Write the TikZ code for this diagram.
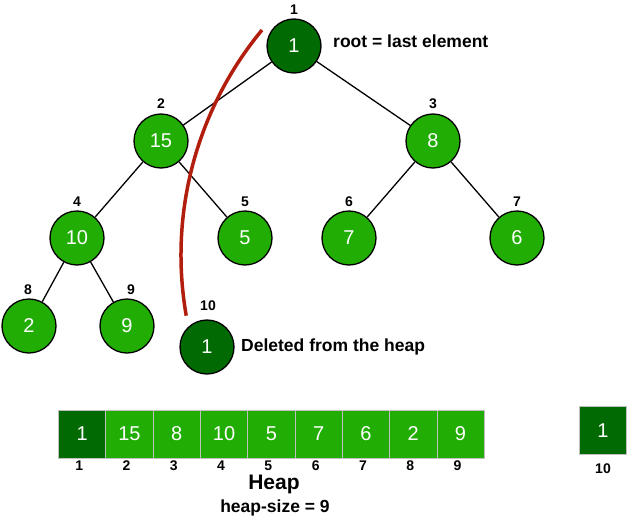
\documentclass[tikz,border=0pt]{standalone}
\usepackage{fontspec}
\setmainfont{Liberation Sans}
\definecolor{lg}{RGB}{33,173,3}
\definecolor{dg}{RGB}{2,106,2}
\definecolor{arcred}{RGB}{178,30,14}
\begin{document}
\begin{tikzpicture}[x=1pt,y=-1pt,
  hnode/.style={circle,draw=black,line width=1.3pt,fill=lg,minimum size=54pt,inner sep=0pt,text=white,font=\fontsize{20}{20}\selectfont},
  dnode/.style={hnode,fill=dg},
  idx/.style={font=\bfseries\fontsize{14}{14}\selectfont,inner sep=0pt},
  note/.style={font=\bfseries\fontsize{17.5}{20}\selectfont,inner sep=0pt,anchor=west},
  cell/.style={rectangle,draw=black!25,line width=0.8pt,fill=lg,minimum width=47.3pt,minimum height=48pt,inner sep=0pt,text=white,font=\fontsize{20}{20}\selectfont},
  edge/.style={draw=black,line width=1.3pt}]
\useasboundingbox (0,0) rectangle (634,519);
% tree nodes
\node[dnode] (r) at (294,46) {1};
\node[hnode] (n2) at (161,141) {15};
\node[hnode] (n3) at (433,141) {8};
\node[hnode] (n4) at (77,238) {10};
\node[hnode] (n5) at (245,238) {5};
\node[hnode] (n6) at (349,238) {7};
\node[hnode] (n7) at (517,238) {6};
\node[hnode] (n8) at (29,326) {2};
\node[hnode] (n9) at (127,326) {9};
\node[dnode] (n10) at (207,347) {1};
% index labels
\node[idx] (l1) at (294,10) {1};
\node[idx] (l2) at (161,104) {2};
\node[idx] (l3) at (433,104) {3};
\node[idx] (l4) at (77,202) {4};
\node[idx] (l5) at (245,202) {5};
\node[idx] (l6) at (349,202) {6};
\node[idx] (l7) at (517,202) {7};
\node[idx] (l8) at (28,290) {8};
\node[idx] (l9) at (131,290) {9};
\node[idx] (l10) at (208,306) {10};
% notes
\node[note] (t1) at (333,41) {root = last element};
\node[note] (t2) at (241,347) {Deleted from the heap};
% edges
\draw[edge] (r) -- (n2);
\draw[edge] (r) -- (n3);
\draw[edge] (n2) -- (n4);
\draw[edge] (n2) -- (n5);
\draw[edge] (n3) -- (n6);
\draw[edge] (n3) -- (n7);
\draw[edge] (n4) -- (n8);
\draw[edge] (n4) -- (n9);
% red arc
\draw[arcred,line width=3.5pt] (262,30) arc[start angle=140.4,end angle=189.9,radius=353pt];
% array
\foreach \v [count=\i] in {1,15,8,10,5,7,6,2,9}{
  \node[cell] (c\i) at ({58.5+47.3*(\i-0.5)},434) {\v};
  \node[idx] (ci\i) at ({55.5+47.3*(\i-0.5)},466) {\i};
}
\node[cell,fill=dg] (c1b) at (82.15,434) {1};
\node[cell,fill=dg] (c10) at (603,430.5) {1};
\node[idx] (ci10) at (603,469) {10};
\node[font=\bfseries\fontsize{21}{21}\selectfont,inner sep=0pt] (heap) at (274,484) {Heap};
\node[font=\bfseries\fontsize{17.5}{17.5}\selectfont,inner sep=0pt] (hs) at (275,508) {heap-size = 9};
\end{tikzpicture}
\end{document}
